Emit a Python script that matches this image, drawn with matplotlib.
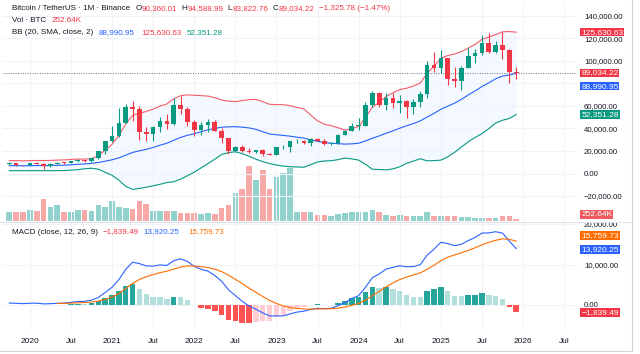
# btc_monthly.py
# Binance BTCUSDT monthly candles with volume, Bollinger bands and MACD pane

import numpy as np
import matplotlib
matplotlib.use("Agg")
import matplotlib.pyplot as plt
from matplotlib.lines import Line2D

# months Oct 2019 .. Dec 2025 (index 0 = Oct 2019)
opens = [8289, 9140, 7541, 7195, 9352, 8523, 6413, 8620, 9448, 9138,
         11335, 11649, 10776, 13791, 19695, 28923, 33092, 45135, 58739, 57697,
         37253, 35045, 41461, 47100, 43820, 61300, 56950, 46216, 38466, 43160,
         45510, 37630, 31801, 19942, 23296, 20048, 19423, 20491, 17165, 16541,
         23125, 23141, 28465, 29233, 27210, 30472, 29232, 25941, 26963, 34640,
         37724, 42284, 42580, 61131, 71281, 60672, 67540, 62678, 64628, 58975,
         63328, 70292, 96408, 93430, 102430, 84350, 82550, 94172, 104592, 107136,
         115765, 108246, 114049, 109608, 90360.01]
highs = [10370, 9513, 7750, 9578, 10500, 9189, 9468, 10068, 10380, 11444,
         12468, 12050, 14100, 19863, 29300, 41950, 58352, 61844, 64854, 59600,
         41330, 42448, 50500, 52920, 67000, 69000, 59053, 47990, 45821, 48189,
         47444, 40023, 31986, 24668, 25211, 22800, 20988, 21480, 18387, 23960,
         25250, 29184, 31000, 29820, 31432, 31804, 30244, 27483, 35280, 38450,
         44700, 48970, 63913, 73777, 72798, 71980, 71998, 70080, 65660, 66500,
         73620, 99588, 108353, 109588, 102750, 95000, 95758, 111980, 110530, 123218,
         124474, 117900, 126200, 110600, 94588.99]
lows = [7300, 6515, 6435, 6871, 8445, 3782, 6150, 8117, 8833, 8893,
        10518, 9825, 10374, 13195, 17572, 28130, 32296, 44950, 47044, 30000,
        28805, 29278, 37332, 39600, 43283, 53256, 42000, 32917, 34322, 37155,
        37578, 26700, 17622, 18781, 19520, 18125, 18190, 15476, 16256, 16499,
        21351, 19549, 26942, 25811, 24800, 28861, 25166, 24901, 26538, 34097,
        37630, 38555, 41884, 59005, 59191, 56552, 58402, 53486, 49000, 52550,
        58867, 66835, 90500, 89256, 78258, 76555, 74508, 93377, 98200, 105100,
        107350, 107270, 102000, 80600, 83822.76]
closes = [9150, 7541, 7195, 9352, 8523, 6410, 8620, 9448, 9138, 11335,
          11649, 10776, 13791, 19695, 28923, 33092, 45135, 58740, 57694, 37253,
          35045, 41462, 47100, 43824, 61300, 56951, 46217, 38466, 43160, 45510,
          37631, 31802, 19942, 23293, 20050, 19423, 20491, 17164, 16542, 23125,
          23141, 28466, 29233, 27211, 30472, 29232, 25941, 26963, 34640, 37724,
          42284, 42580, 61131, 71281, 60672, 67540, 62678, 64628, 58974, 63328,
          70292, 96408, 93430, 102430, 84350, 82550, 94172, 104592, 107136, 115765,
          108246, 114049, 109608, 90360, 89034.22]

# volume in thousands of BTC
volume_k = [1130, 1100, 1050, 1350, 1220, 2730, 1760, 1980, 1130, 1130,
            1350, 1300, 1220, 1980, 1760, 2480, 1760, 1550, 1420, 2480,
            2100, 1260, 1220, 1170, 1220, 920, 920, 920, 880, 1010,
            880, 1640, 2020, 3530, 4030, 6930, 5170, 6430, 4030, 5540,
            6050, 6680, 1130, 1050, 1100, 720, 720, 630, 880, 970,
            1100, 1130, 1100, 1390, 1050, 720, 630, 680, 590, 560,
            560, 1050, 650, 600, 600, 600, 510, 470, 390, 390,
            390, 380, 540, 540, 252.64]

# Bollinger bands (20, SMA, 2), thousands USD
bb_upper = [11.41, 11.45, 11.22, 11.45, 11.59, 11.53, 11.66, 11.91, 12.09, 12.51,
            12.82, 12.80, 13.33, 15.66, 20.87, 25.94, 33.75, 44.08, 51.60, 53.63,
            55.12, 57.25, 59.94, 61.77, 66.39, 69.16, 69.89, 69.57, 69.21, 68.82,
            67.44, 65.34, 64.37, 63.92, 64.78, 65.73, 65.84, 63.85, 61.50, 61.28,
            61.13, 60.34, 58.72, 57.43, 51.98, 46.78, 43.88, 42.51, 40.69, 38.51,
            39.73, 41.88, 49.75, 58.94, 63.23, 68.38, 71.70, 74.57, 75.80, 77.77,
            80.44, 89.07, 95.32, 102.38, 104.82, 106.22, 108.32, 111.44, 114.82, 119.24,
            121.36, 123.47, 125.89, 126.23, 125.63063]
bb_basis = [6.94, 6.98, 6.87, 6.97, 7.07, 7.01, 7.09, 7.23, 7.37, 7.73,
            8.13, 8.49, 8.99, 9.77, 10.95, 12.18, 13.89, 16.32, 18.73, 20.17,
            21.47, 23.16, 25.16, 26.88, 29.52, 32.05, 33.93, 35.38, 37.08, 38.79,
            40.09, 41.14, 41.45, 41.63, 41.18, 40.50, 39.27, 37.19, 35.13, 34.42,
            33.83, 33.18, 32.29, 31.46, 29.91, 28.53, 27.51, 26.94, 26.51, 26.12,
            26.36, 26.89, 28.95, 31.35, 33.38, 35.79, 37.90, 40.27, 42.40, 44.41,
            46.76, 50.16, 53.37, 57.13, 59.82, 62.49, 65.90, 69.78, 73.41, 77.31,
            80.61, 84.18, 86.61, 87.56, 88.99095]
bb_lower = [2.48, 2.50, 2.52, 2.49, 2.55, 2.49, 2.52, 2.55, 2.64, 2.96,
            3.43, 4.18, 4.65, 3.88, 1.03, -1.59, -5.97, -11.43, -14.15, -13.28,
            -12.18, -10.92, -9.62, -8.01, -7.34, -5.06, -2.03, 1.19, 4.96, 8.76,
            12.73, 16.94, 18.52, 19.34, 17.58, 15.27, 12.69, 10.52, 8.77, 7.57,
            6.53, 6.02, 5.85, 5.49, 7.85, 10.27, 11.15, 11.36, 12.33, 13.74,
            12.98, 11.91, 8.16, 3.77, 3.54, 3.20, 4.10, 5.97, 8.99, 11.04,
            13.08, 11.25, 11.42, 11.88, 14.83, 18.76, 23.48, 28.13, 32.00, 35.38,
            39.86, 44.89, 47.32, 48.89, 52.35128]

# MACD (close, 12, 26, 9), thousands USD
macd_line = [0.483, 0.418, 0.335, 0.438, 0.447, 0.280, 0.323, 0.420, 0.466, 0.672,
             0.850, 0.911, 1.188, 1.863, 3.106, 4.377, 6.284, 8.792, 10.573, 10.217,
             9.646, 9.600, 9.905, 9.769, 10.946, 11.396, 10.763, 9.526, 8.822, 8.358,
             7.271, 5.870, 3.761, 2.332, 0.928, -0.233, -1.055, -1.952, -2.682, -2.698,
             -2.679, -2.208, -1.754, -1.539, -1.093, -0.830, -0.877, -0.822, -0.157, 0.611,
             1.569, 2.327, 4.373, 6.736, 7.665, 8.853, 9.296, 9.692, 9.440, 9.483,
             9.964, 12.310, 13.771, 15.476, 15.193, 14.655, 14.993, 15.919, 16.666, 17.749,
             17.797, 18.094, 17.767, 15.772, 13.92025]
# signal and histogram start at May 2020 (index 7)
signal_line = [0.393, 0.408, 0.461, 0.539, 0.613, 0.728, 0.955, 1.385, 1.983, 2.843,
               4.033, 5.341, 6.316, 6.982, 7.506, 7.986, 8.343, 8.864, 9.370, 9.649,
               9.624, 9.464, 9.243, 8.849, 8.253, 7.355, 6.350, 5.266, 4.166, 3.122,
               2.107, 1.149, 0.380, -0.232, -0.627, -0.852, -0.989, -1.010, -0.974, -0.955,
               -0.928, -0.774, -0.497, -0.084, 0.398, 1.193, 2.302, 3.375, 4.471, 5.436,
               6.287, 6.918, 7.431, 7.938, 8.812, 9.804, 10.938, 11.789, 12.362, 12.888,
               13.494, 14.128, 14.852, 15.441, 15.972, 16.331, 16.219, 15.75973]
macd_hist = [0.027, 0.058, 0.211, 0.311, 0.298, 0.460, 0.908, 1.721, 2.394, 3.441,
             4.759, 5.232, 3.901, 2.664, 2.094, 1.919, 1.426, 2.082, 2.026, 1.114,
             -0.098, -0.642, -0.885, -1.578, -2.383, -3.594, -4.018, -4.338, -4.399, -4.177,
             -4.059, -3.831, -3.078, -2.447, -1.581, -0.902, -0.550, -0.083, 0.144, 0.078,
             0.106, 0.617, 1.108, 1.653, 1.929, 3.180, 4.434, 4.290, 4.382, 3.860,
             3.405, 2.522, 2.052, 2.026, 3.498, 3.967, 4.538, 3.404, 2.293, 2.105,
             2.425, 2.538, 2.897, 2.356, 2.122, 1.436, -0.447, -1.83949]
signal_start = 7

tick_pos = [3, 9, 15, 21, 27, 33, 39, 45, 51, 57, 63, 69, 75, 81]
tick_lab = ['2020', 'Jul', '2021', 'Jul', '2022', 'Jul', '2023', 'Jul',
            '2024', 'Jul', '2025', 'Jul', '2026', 'Jul']
price_ticks = [-20000, 0, 20000, 40000, 60000, 80000, 100000, 120000, 140000]
hidden_ticks = [80000]   # sits under the last-price tags
macd_ticks = [0, 10000, 20000]

UP, DOWN = '#089981', '#F23645'
BLUE, ORANGE = '#2962FF', '#FF6D00'
TXT = '#131722'
GRID = '#F0F3FA'

plt.rcParams['font.family'] = ['Liberation Sans', 'DejaVu Sans']

W, H = 640, 354
fig = plt.figure(figsize=(W / 100, H / 100), dpi=100)
fig.patch.set_facecolor('white')

def fx(px):
    return px / W

def fy(py):
    return 1 - py / H

def money(v):
    s = '{:,.2f}'.format(abs(v))
    return ('\u2212' + s) if v < 0 else s

o = np.array(opens, dtype=float)
hi = np.array(highs, dtype=float)
lo = np.array(lows, dtype=float)
c = np.array(closes, dtype=float)
x = np.arange(len(c))
up = c >= o

# ---- price pane
ax = fig.add_axes([fx(3), fy(222), (577 - 3) / W, 221 / H])
axv = ax.twinx()
ax.set_zorder(axv.get_zorder() + 1)
ax.patch.set_visible(False)

vol = np.array(volume_k) * 1000
axv.bar(x, vol, width=0.82, color=np.where(up, '#92D2CC', '#F7A9A7'), lw=0)
axv.set_ylim(-164e3, 27.75e6)
axv.set_yticks([])

ax.fill_between(x, np.array(bb_lower) * 1000, np.array(bb_upper) * 1000,
                color='#2196F3', alpha=0.05, lw=0, zorder=1)
ax.plot(x, np.array(bb_upper) * 1000, color='#F23645', lw=0.8, alpha=0.8, zorder=2)
ax.plot(x, np.array(bb_basis) * 1000, color=BLUE, lw=0.8, zorder=2)
ax.plot(x, np.array(bb_lower) * 1000, color=UP, lw=0.8, zorder=2)

cols = np.where(up, UP, DOWN)
ax.vlines(x, lo, hi, colors=cols, lw=0.8, zorder=3)
body = np.maximum(np.abs(c - o), 700)
ax.bar(x, body, bottom=np.minimum(o, c), width=0.68, color=cols, lw=0, zorder=4)

ax.axhline(c[-1], color='#6a6d78', lw=0.7, ls=(0, (1, 1.5)), zorder=2)

ax.set_xlim(-0.92, 82.88)
ax.set_ylim(-43111, 153333)
ax.set_xticks(tick_pos)
ax.set_xticklabels([])
ax.set_yticks(price_ticks)
ax.set_yticklabels(['' if v in hidden_ticks else money(v) for v in price_ticks])
ax.yaxis.tick_right()
ax.tick_params(axis='both', length=0, labelsize=5.6, labelcolor=TXT, pad=5)
ax.grid(True, color=GRID, lw=0.8)
for a in (ax, axv):
    for s in a.spines.values():
        s.set_visible(False)

# ---- MACD pane
axm = fig.add_axes([fx(3), fy(330), (577 - 3) / W, 108 / H])
hist = np.array(macd_hist) * 1000
prev = np.concatenate([[np.nan], hist[:-1]])
hcols = []
for h, p in zip(hist, prev):
    grow = p < h
    if h >= 0:
        hcols.append('#26A69A' if grow else '#B2DFDB')
    else:
        hcols.append('#FFCDD2' if grow else '#FF5252')
xs = x[signal_start:]
axm.bar(xs, hist, width=0.8, color=hcols, lw=0, zorder=2)
axm.axhline(0, color='#9598A1', lw=0.6, ls=(0, (3, 3)), zorder=1)
axm.plot(x, np.array(macd_line) * 1000, color=BLUE, lw=0.8, zorder=3)
axm.plot(xs, np.array(signal_line) * 1000, color=ORANGE, lw=0.8, zorder=3)

axm.set_xlim(-0.92, 82.88)
axm.set_ylim(-6173, 20494)
axm.set_xticks(tick_pos)
axm.set_xticklabels(tick_lab)
axm.set_yticks(macd_ticks)
axm.set_yticklabels([money(v) for v in macd_ticks])
axm.yaxis.tick_right()
axm.tick_params(axis='y', length=0, labelsize=5.6, labelcolor=TXT, pad=5)
axm.tick_params(axis='x', length=0, labelsize=6, labelcolor=TXT, pad=5.5)
axm.grid(True, color=GRID, lw=0.8)
for s in axm.spines.values():
    s.set_visible(False)

# ---- price tags on the right scale
def tag(a, val, text, color, dy=0):
    a.annotate(text, xy=(1, val), xycoords=('axes fraction', 'data'),
               xytext=(3, dy), textcoords='offset points', va='center', ha='left',
               fontsize=6, color='white', annotation_clip=False, zorder=20,
               bbox=dict(boxstyle='square,pad=0.1', fc=color, ec='none'))

tag(ax, bb_upper[-1] * 1000, money(bb_upper[-1] * 1000), DOWN)
tag(ax, c[-1], money(c[-1]), DOWN, dy=0.3)
tag(ax, bb_basis[-1] * 1000, money(bb_basis[-1] * 1000), BLUE, dy=-9.2)
tag(ax, bb_lower[-1] * 1000, money(bb_lower[-1] * 1000), UP)
tag(axv, vol[-1], '{:.2f}K'.format(volume_k[-1]), '#F05A5F', dy=3)
tag(axm, signal_line[-1] * 1000, money(signal_line[-1] * 1000), ORANGE, dy=4)
tag(axm, macd_line[-1] * 1000, money(macd_line[-1] * 1000), BLUE, dy=-0.5)
tag(axm, macd_hist[-1] * 1000, money(macd_hist[-1] * 1000), DOWN)

# ---- legends, chained left to right like the original header
renderer = fig.canvas.get_renderer()

def row(py, x0, parts):
    xp = x0
    for text, color, gap in parts:
        t = fig.text(fx(xp), fy(py), text, fontsize=5.8, color=color,
                     va='center', ha='left')
        xp = t.get_window_extent(renderer=renderer).x1 + gap

chg = c[-1] - c[-2]
row(9, 12, [('Bitcoin / TetherUS \u00b7 1M \u00b7 Binance', TXT, 5),
            ('O', TXT, 0.5), (money(o[-1]), DOWN, 4),
            ('H', TXT, 0.5), (money(hi[-1]), DOWN, 4),
            ('L', TXT, 0.5), (money(lo[-1]), DOWN, 4),
            ('C', TXT, 0.5), (money(c[-1]), DOWN, 4),
            ('{} ({}%)'.format(money(chg), money(chg / c[-2] * 100)), DOWN, 0)])
row(21, 12, [('Vol \u00b7 BTC', TXT, 5), ('{:.2f}K'.format(volume_k[-1]), DOWN, 0)])
row(33, 12, [('BB (20, SMA, close, 2)', TXT, 5),
             (money(bb_basis[-1] * 1000), BLUE, 7),
             (money(bb_upper[-1] * 1000), DOWN, 5),
             (money(bb_lower[-1] * 1000), UP, 0)])
row(232, 12, [('MACD (close, 12, 26, 9)', TXT, 5),
              (money(macd_hist[-1] * 1000), DOWN, 4),
              (money(macd_line[-1] * 1000), BLUE, 9),
              (money(signal_line[-1] * 1000), ORANGE, 0)])

# pane separator and outer frame
fig.add_artist(Line2D([0, fx(632)], [fy(222), fy(222)], color='#E0E3EB', lw=0.8))
fig.add_artist(Line2D([fx(632), fx(632)], [fy(0), fy(351)], color='#D1D4DC', lw=0.8))
fig.add_artist(Line2D([0, fx(632)], [fy(351), fy(351)], color='#D1D4DC', lw=0.8))

fig.savefig('out.png', dpi=100, facecolor='white')
